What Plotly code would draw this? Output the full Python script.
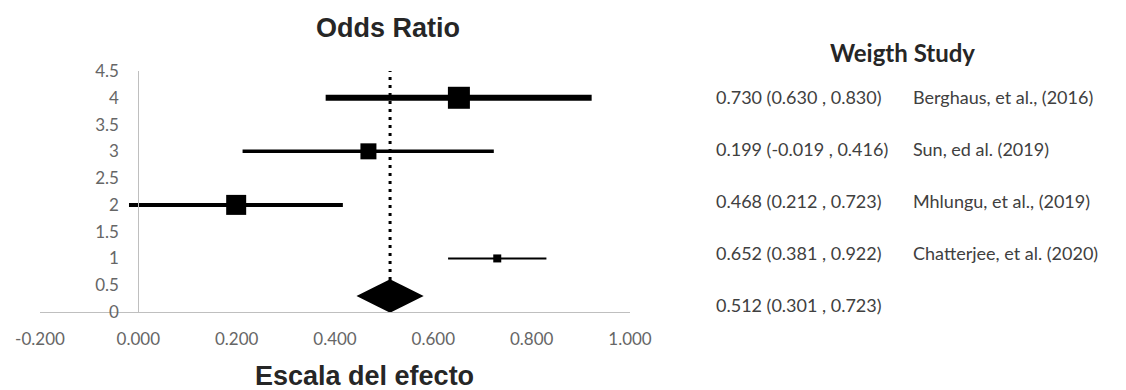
import plotly.graph_objects as go

# ---- data -------------------------------------------------------------
studies = ["Berghaus, et al., (2016)", "Sun, ed al. (2019)",
           "Mhlungu, et al., (2019)", "Chatterjee, et al. (2020)"]
estimates = [0.730, 0.199, 0.468, 0.652]
ci_lower = [0.630, -0.019, 0.212, 0.381]
ci_upper = [0.830, 0.416, 0.723, 0.922]
row_positions = [1, 2, 3, 4]          # y value of each study on the plot

pooled_estimate = 0.512
pooled_lower = 0.301
pooled_upper = 0.723
pooled_row = 0.3

y_ticks = [0, 0.5, 1, 1.5, 2, 2.5, 3, 3.5, 4, 4.5]
y_tick_labels = ["0", "0.5", "1", "1.5", "2", "2.5", "3", "3.5", "4", "4.5"]
x_ticks = [-0.2, 0.0, 0.2, 0.4, 0.6, 0.8, 1.0]
x_tick_labels = ["-0.200", "0.000", "0.200", "0.400", "0.600", "0.800", "1.000"]

# ---- styles -----------------------------------------------------------
marker_sizes = [8, 20, 16, 22]
line_widths = [2, 4, 3.5, 6]

W, H = 1126, 390
L, T, R, B = 40, 71, 496, 78
PW, PH = W - L - R, H - T - B
X_RANGE = [-0.2, 1.0]
Y_RANGE = [0, 4.5]

def px_x(px):
    return (px - L) / PW

def px_y(py):
    return 1 - (py - T) / PH

fig = go.Figure()

for est, lo, hi, row, ms, lw in zip(estimates, ci_lower, ci_upper,
                                    row_positions, marker_sizes, line_widths):
    fig.add_trace(go.Scatter(
        x=[lo, hi], y=[row, row], mode="lines",
        line=dict(color="black", width=lw), hoverinfo="skip",
        showlegend=False, cliponaxis=False))
    fig.add_trace(go.Scatter(
        x=[est], y=[row], mode="markers",
        marker=dict(symbol="square", size=ms, color="black",
                    line=dict(width=0)),
        showlegend=False, cliponaxis=False))

# reference line through the pooled estimate
fig.add_trace(go.Scatter(
    x=[pooled_estimate, pooled_estimate], y=[pooled_row, Y_RANGE[1]],
    mode="lines", line=dict(color="black", width=3, dash="3px,5px"),
    showlegend=False, hoverinfo="skip", cliponaxis=False))

# pooled diamond
fig.add_trace(go.Scatter(
    x=[pooled_estimate], y=[pooled_row], mode="markers",
    marker=dict(symbol="diamond-wide", size=48, color="black",
                line=dict(width=0)),
    showlegend=False, cliponaxis=False))

tick_font = dict(family="Lato, Carlito, 'Open Sans', sans-serif",
                 size=17, color="#666666")

fig.update_layout(
    width=W, height=H,
    margin=dict(l=L, r=R, t=T, b=B, pad=0),
    paper_bgcolor="white", plot_bgcolor="white",
    xaxis=dict(range=X_RANGE, tickvals=x_ticks, ticktext=x_tick_labels,
               showgrid=False, zeroline=False, showline=True,
               linecolor="#bfbfbf", linewidth=1,
               ticks="outside", ticklen=12, tickcolor="rgba(0,0,0,0)",
               tickfont=tick_font, fixedrange=True),
    yaxis=dict(range=Y_RANGE, tickvals=y_ticks, ticktext=y_tick_labels,
               anchor="free",
               position=(0 - X_RANGE[0]) / (X_RANGE[1] - X_RANGE[0]),
               showgrid=False, zeroline=False, showline=True,
               linecolor="#bfbfbf", linewidth=1,
               ticks="outside", ticklen=16, tickcolor="rgba(0,0,0,0)",
               tickfont=tick_font, fixedrange=True),
    font=dict(family="Lato, 'Open Sans', sans-serif", color="#404040"),
)

annotations = [
    dict(text="<b>Odds Ratio</b>", x=px_x(388), y=px_y(28),
         font=dict(family="'Liberation Sans', Arial, sans-serif",
                   size=27, color="#262626")),
    dict(text="<b>Escala del efecto</b>", x=px_x(364), y=px_y(376),
         font=dict(family="'Liberation Sans', Arial, sans-serif",
                   size=27, color="#262626")),
    dict(text="<b>Weigth Study</b>", x=px_x(902), y=px_y(52),
         font=dict(family="Lato, 'Open Sans', sans-serif",
                   size=24, color="#262626")),
]

side_font = dict(family="Lato, Carlito, 'Open Sans', sans-serif",
                 size=18, color="#404040")
rows_text = [(e, lo, hi, s) for e, lo, hi, s in
             zip(estimates, ci_lower, ci_upper, studies)]
rows_text.append((pooled_estimate, pooled_lower, pooled_upper, ""))
for i, (e, lo, hi, s) in enumerate(rows_text):
    py = 97 + 52 * i
    annotations.append(dict(
        text=f"{e:.3f} ({lo:.3f} , {hi:.3f})", x=px_x(714), y=px_y(py),
        xanchor="left", font=side_font))
    if s:
        annotations.append(dict(
            text=s, x=px_x(911), y=px_y(py), xanchor="left", font=side_font))

for a in annotations:
    a.update(xref="paper", yref="paper", showarrow=False)
    a.setdefault("xanchor", "center")
    a.setdefault("yanchor", "middle")

fig.update_layout(annotations=annotations)

fig.write_html("out.html", config={"displayModeBar": False})
